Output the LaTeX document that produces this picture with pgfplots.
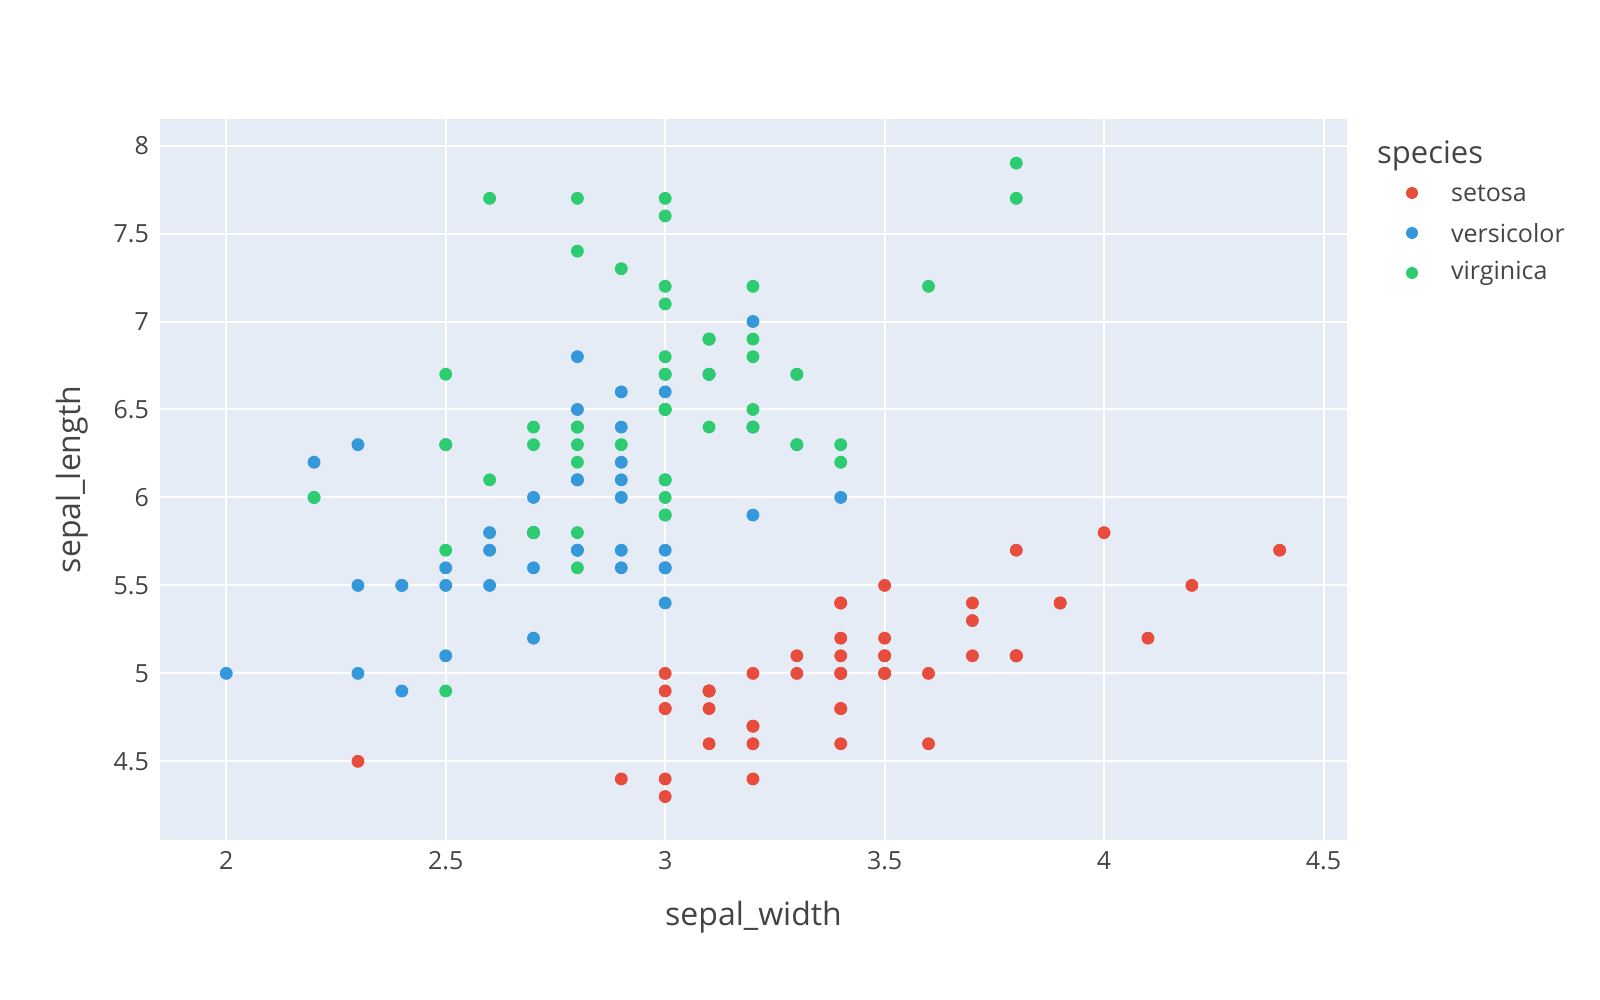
\documentclass[border=0pt]{standalone}
\usepackage{pgfplots}
\pgfplotsset{compat=1.18}
\usepackage{fontspec}
\setmainfont{Open Sans}
\definecolor{bgc}{HTML}{E5ECF6}
\definecolor{txt}{HTML}{444444}
\definecolor{cset}{HTML}{E74C3C}
\definecolor{cver}{HTML}{3498DB}
\definecolor{cvir}{HTML}{2ECC71}
\begin{document}
\begin{tikzpicture}
\useasboundingbox (0,0) rectangle (800pt,500pt);
\begin{axis}[
  at={(80pt,80pt)}, anchor=south west,
  scale only axis, width=593.5pt, height=360.5pt,
  xmin=1.849, xmax=4.5535, ymin=4.053, ymax=8.151,
  axis background/.style={fill=bgc},
  axis line style={draw=none},
  tick style={draw=none},
  grid=major, major grid style={white, line width=1pt},
  xtick={2,2.5,3,3.5,4,4.5},
  ytick={4.5,5,5.5,6,6.5,7,7.5,8},
  /pgf/number format/assume math mode=true,
  ticklabel style={font=\fontsize{12.5}{15}\selectfont, text=txt},
  xticklabel style={yshift=-2pt},
  yticklabel style={xshift=-2pt},
  xlabel={sepal\_width}, ylabel={sepal\_length},
  label style={font=\fontsize{16}{19}\selectfont, text=txt},
  xlabel style={yshift=-9pt},
  ylabel style={yshift=6pt},
  clip=false,
]
\addplot[only marks, mark=*, mark size=3pt, color=cset] coordinates {
(3.5,5.1)(3.0,4.9)(3.2,4.7)(3.1,4.6)(3.6,5.0)(3.9,5.4)(3.4,4.6)(3.4,5.0)(2.9,4.4)(3.1,4.9)
(3.7,5.4)(3.4,4.8)(3.0,4.8)(3.0,4.3)(4.0,5.8)(4.4,5.7)(3.9,5.4)(3.5,5.1)(3.8,5.7)(3.8,5.1)
(3.4,5.4)(3.7,5.1)(3.6,4.6)(3.3,5.1)(3.4,4.8)(3.0,5.0)(3.4,5.0)(3.5,5.2)(3.4,5.2)(3.2,4.7)
(3.1,4.8)(3.4,5.4)(4.1,5.2)(4.2,5.5)(3.1,4.9)(3.2,5.0)(3.5,5.5)(3.1,4.9)(3.0,4.4)(3.4,5.1)
(3.5,5.0)(2.3,4.5)(3.2,4.4)(3.5,5.0)(3.8,5.1)(3.0,4.8)(3.8,5.1)(3.2,4.6)(3.7,5.3)(3.3,5.0)
};
\addplot[only marks, mark=*, mark size=3pt, color=cver] coordinates {
(3.2,7.0)(3.2,6.4)(3.1,6.9)(2.3,5.5)(2.8,6.5)(2.8,5.7)(3.3,6.3)(2.4,4.9)(2.9,6.6)(2.7,5.2)
(2.0,5.0)(3.0,5.9)(2.2,6.0)(2.9,6.1)(2.9,5.6)(3.1,6.7)(3.0,5.6)(2.7,5.8)(2.2,6.2)(2.5,5.6)
(3.2,5.9)(2.8,6.1)(2.5,6.3)(2.8,6.1)(2.9,6.4)(3.0,6.6)(2.8,6.8)(3.0,6.7)(2.9,6.0)(2.6,5.7)
(2.4,5.5)(2.4,5.5)(2.7,5.8)(2.7,6.0)(3.0,5.4)(3.4,6.0)(3.1,6.7)(2.3,6.3)(3.0,5.6)(2.5,5.5)
(2.6,5.5)(3.0,6.1)(2.6,5.8)(2.3,5.0)(2.7,5.6)(3.0,5.7)(2.9,5.7)(2.9,6.2)(2.5,5.1)(2.8,5.7)
};
\addplot[only marks, mark=*, mark size=3pt, color=cvir] coordinates {
(3.3,6.3)(2.7,5.8)(3.0,7.1)(2.9,6.3)(3.0,6.5)(3.0,7.6)(2.5,4.9)(2.9,7.3)(2.5,6.7)(3.6,7.2)
(3.2,6.5)(2.7,6.4)(3.0,6.8)(2.5,5.7)(2.8,5.8)(3.2,6.4)(3.0,6.5)(3.8,7.7)(2.6,7.7)(2.2,6.0)
(3.2,6.9)(2.8,5.6)(2.8,7.7)(2.7,6.3)(3.3,6.7)(3.2,7.2)(2.8,6.2)(3.0,6.1)(2.8,6.4)(3.0,7.2)
(2.8,7.4)(3.8,7.9)(2.8,6.4)(2.8,6.3)(2.6,6.1)(3.0,7.7)(3.4,6.3)(3.1,6.4)(3.0,6.0)(3.1,6.9)
(3.1,6.7)(3.1,6.9)(2.7,5.8)(3.2,6.8)(3.3,6.7)(3.0,6.7)(2.5,6.3)(3.0,6.5)(3.4,6.2)(3.0,5.9)
};
\end{axis}
% legend
\node[anchor=west, text=txt, font=\fontsize{15.5}{18}\selectfont] at (685pt,422pt) {species};
\fill[cset] (706pt,403.5pt) circle (3pt);
\node[anchor=west, text=txt, font=\fontsize{12.5}{15}\selectfont] at (722pt,403.5pt) {setosa};
\fill[cver] (706pt,383.5pt) circle (3pt);
\node[anchor=west, text=txt, font=\fontsize{12.5}{15}\selectfont] at (722pt,383.5pt) {versicolor};
\fill[cvir] (706pt,363.5pt) circle (3pt);
\node[anchor=west, text=txt, font=\fontsize{12.5}{15}\selectfont] at (722pt,363.5pt) {virginica};
\end{tikzpicture}
\end{document}
